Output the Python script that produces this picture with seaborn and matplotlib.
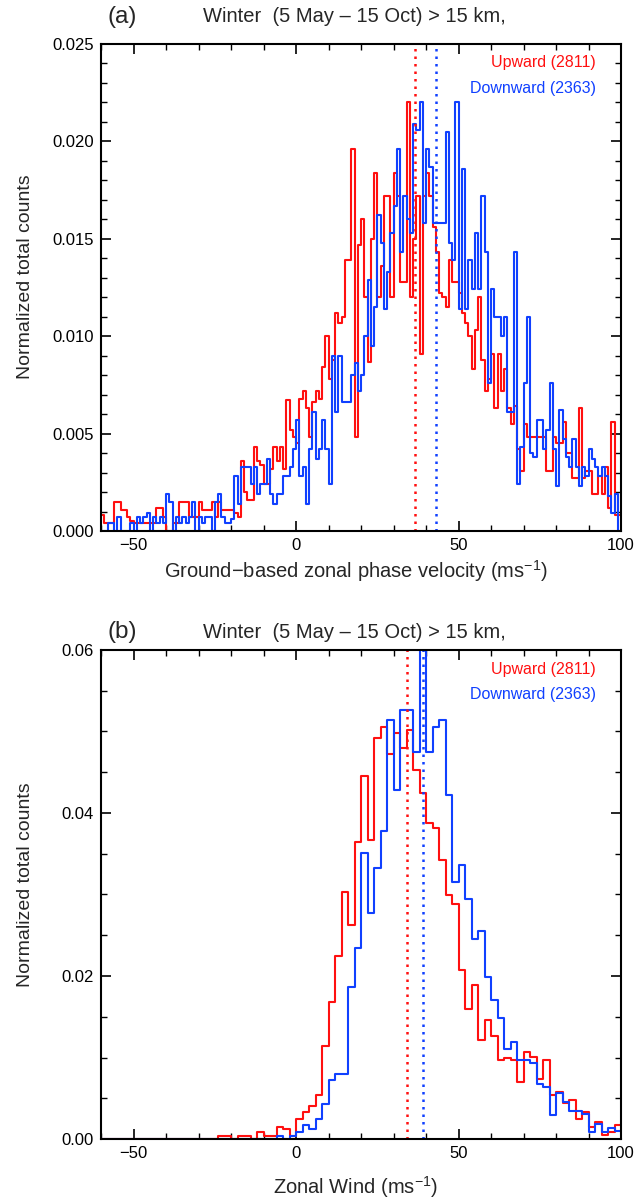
import numpy as np
import pandas as pd
import matplotlib
matplotlib.use("Agg")
import matplotlib.pyplot as plt
from matplotlib.ticker import MultipleLocator
import seaborn as sns

# ---------------- data ----------------
# Panel (a): ground-based zonal phase velocity, 1 m/s bins from -60 to 100
edges_a = np.arange(-60, 101, 1)
up_a = [
    0.0008, 0.0004, 0.0004, 0.0004, 0.0015, 0.0015, 0.0011, 0.0011, 0.0007, 0.0005,
    0.0004, 0.0004, 0.0004, 0.0004, 0.0004, 0.0004, 0.0004, 0.0012, 0.0012, 0.0007,
    0.0000, 0.0000, 0.0004, 0.0004, 0.0015, 0.0015, 0.0015, 0.0007, 0.0007, 0.0007,
    0.0015, 0.0011, 0.0011, 0.0011, 0.0015, 0.0007, 0.0015, 0.0011, 0.0011, 0.0011,
    0.0011, 0.0009, 0.0007, 0.0036, 0.0020, 0.0016, 0.0016, 0.0043, 0.0036, 0.0034,
    0.0024, 0.0024, 0.0032, 0.0043, 0.0036, 0.0043, 0.0032, 0.0067, 0.0052, 0.0048,
    0.0045, 0.0068, 0.0072, 0.0063, 0.0048, 0.0066, 0.0072, 0.0068, 0.0084, 0.0100,
    0.0078, 0.0088, 0.0112, 0.0107, 0.0110, 0.0139, 0.0139, 0.0196, 0.0048, 0.0147,
    0.0160, 0.0120, 0.0087, 0.0150, 0.0184, 0.0120, 0.0136, 0.0172, 0.0172, 0.0120,
    0.0184, 0.0172, 0.0128, 0.0128, 0.0220, 0.0120, 0.0150, 0.0172, 0.0091, 0.0172,
    0.0184, 0.0172, 0.0156, 0.0143, 0.0122, 0.0120, 0.0115, 0.0139, 0.0128, 0.0128,
    0.0122, 0.0112, 0.0107, 0.0100, 0.0083, 0.0103, 0.0120, 0.0088, 0.0072, 0.0078,
    0.0091, 0.0063, 0.0091, 0.0072, 0.0083, 0.0063, 0.0055, 0.0064, 0.0042, 0.0031,
    0.0055, 0.0048, 0.0048, 0.0048, 0.0048, 0.0048, 0.0048, 0.0031, 0.0031, 0.0048,
    0.0045, 0.0045, 0.0056, 0.0040, 0.0040, 0.0027, 0.0027, 0.0063, 0.0027, 0.0031,
    0.0031, 0.0019, 0.0019, 0.0028, 0.0019, 0.0033, 0.0012, 0.0056, 0.0008, 0.0008,
]
down_a = [
    0.0000, 0.0000, 0.0004, 0.0004, 0.0000, 0.0007, 0.0000, 0.0000, 0.0000, 0.0004,
    0.0000, 0.0007, 0.0004, 0.0007, 0.0009, 0.0000, 0.0007, 0.0004, 0.0007, 0.0004,
    0.0019, 0.0015, 0.0000, 0.0007, 0.0004, 0.0007, 0.0004, 0.0007, 0.0015, 0.0000,
    0.0007, 0.0004, 0.0007, 0.0007, 0.0000, 0.0015, 0.0019, 0.0007, 0.0004, 0.0004,
    0.0006, 0.0028, 0.0014, 0.0033, 0.0033, 0.0033, 0.0024, 0.0033, 0.0019, 0.0024,
    0.0024, 0.0037, 0.0019, 0.0014, 0.0019, 0.0019, 0.0028, 0.0028, 0.0033, 0.0042,
    0.0057, 0.0028, 0.0033, 0.0014, 0.0042, 0.0061, 0.0037, 0.0042, 0.0057, 0.0042,
    0.0024, 0.0090, 0.0061, 0.0090, 0.0066, 0.0066, 0.0066, 0.0080, 0.0086, 0.0072,
    0.0080, 0.0100, 0.0129, 0.0095, 0.0115, 0.0162, 0.0148, 0.0114, 0.0133, 0.0153,
    0.0167, 0.0196, 0.0143, 0.0172, 0.0160, 0.0153, 0.0209, 0.0206, 0.0220, 0.0158,
    0.0196, 0.0187, 0.0158, 0.0158, 0.0158, 0.0158, 0.0205, 0.0148, 0.0139, 0.0220,
    0.0114, 0.0186, 0.0114, 0.0139, 0.0124, 0.0153, 0.0124, 0.0172, 0.0143, 0.0076,
    0.0124, 0.0110, 0.0110, 0.0100, 0.0110, 0.0061, 0.0061, 0.0143, 0.0024, 0.0043,
    0.0076, 0.0110, 0.0040, 0.0038, 0.0057, 0.0057, 0.0042, 0.0052, 0.0076, 0.0042,
    0.0023, 0.0062, 0.0047, 0.0038, 0.0033, 0.0047, 0.0033, 0.0023, 0.0033, 0.0028,
    0.0042, 0.0037, 0.0033, 0.0028, 0.0033, 0.0028, 0.0018, 0.0009, 0.0019, 0.0000,
]
mean_up_a = 36.7
mean_down_a = 43.1

# Panel (b): zonal wind, 2 m/s bins from -60 to 100
edges_b = np.arange(-60, 101, 2)
up_b = [
    0, 0, 0, 0, 0, 0, 0, 0, 0, 0,
    0, 0, 0, 0, 0, 0, 0, 0, 0.0004, 0.0004,
    0, 0.0004, 0.0004, 0, 0.0008, 0.0004, 0.0004, 0.0015, 0.0012, 0.0004,
    0.0025, 0.0033, 0.0040, 0.0054, 0.0114, 0.0168, 0.0225, 0.0303, 0.0263, 0.0364,
    0.0445, 0.0367, 0.0492, 0.0506, 0.0473, 0.0498, 0.0480, 0.0502, 0.0453, 0.0424,
    0.0388, 0.0381, 0.0342, 0.0299, 0.0288, 0.0207, 0.0160, 0.0189, 0.0121, 0.0146,
    0.0126, 0.0097, 0.0100, 0.0097, 0.0070, 0.0107, 0.0101, 0.0074, 0.0097, 0.0054,
    0.0058, 0.0044, 0.0048, 0.0025, 0.0033, 0.0015, 0.0021, 0.0005, 0.0009, 0.0017,
]
down_b = [
    0, 0, 0, 0, 0, 0, 0, 0, 0, 0,
    0, 0, 0, 0, 0, 0, 0, 0, 0, 0,
    0, 0, 0, 0, 0, 0, 0, 0.0004, 0, 0.0004,
    0.0009, 0.0017, 0.0012, 0.0025, 0.0043, 0.0072, 0.0080, 0.0080, 0.0187, 0.0234,
    0.0351, 0.0277, 0.0332, 0.0378, 0.0514, 0.0428, 0.0526, 0.0526, 0.0475, 0.0650,
    0.0475, 0.0506, 0.0514, 0.0422, 0.0315, 0.0336, 0.0294, 0.0246, 0.0255, 0.0199,
    0.0170, 0.0149, 0.0111, 0.0119, 0.0097, 0.0097, 0.0093, 0.0068, 0.0064, 0.0029,
    0.0056, 0.0045, 0.0034, 0.0034, 0.0031, 0.0009, 0.0019, 0.0009, 0.0013, 0.0010,
]
mean_up_b = 34.0
mean_down_b = 39.2

title_text = "Winter  (5 May \u2013 15 Oct) > 15 km,"
up_label = "Upward (2811)"
down_label = "Downward (2363)"

RED = "#ff1010"
BLUE = "#1040ff"

# ---------------- plotting ----------------
sns.set_theme(style="white")
plt.rcParams["font.family"] = ["Liberation Sans", "DejaVu Sans"]
plt.rcParams["mathtext.fontset"] = "custom"
plt.rcParams["mathtext.rm"] = "Liberation Sans"

W, H = 638, 1199
fig = plt.figure(figsize=(W / 100, H / 100), dpi=100)
ax1 = fig.add_axes([101 / W, 1 - 531 / H, 520 / W, 487 / H])
ax2 = fig.add_axes([101 / W, 1 - 1139 / H, 520 / W, 489 / H])


def draw(ax, edges, up, down, m_up, m_down, ymax, ymaj, ymin, yfmt, xlabel,
         letter, top_px, xlab_y, ylab_y):
    centers = (edges[:-1] + edges[1:]) / 2
    width = float(edges[1] - edges[0])
    lo, hi = float(edges[0]), float(edges[-1])
    for vals, col in ((up, RED), (down, BLUE)):
        df = pd.DataFrame({"x": centers, "w": np.asarray(vals, dtype=float)})
        sns.histplot(data=df, x="x", weights="w", binwidth=width, binrange=(lo, hi),
                     element="step", fill=False, color=col, linewidth=1.5,
                     ax=ax, legend=False)
    ax.axvline(m_up, color=RED, linestyle=(0, (1, 2.0)), linewidth=1.8)
    ax.axvline(m_down, color=BLUE, linestyle=(0, (1, 2.0)), linewidth=1.8)
    ax.set_xlim(-60, 100)
    ax.set_ylim(0, ymax)
    ax.xaxis.set_major_locator(MultipleLocator(50))
    ax.xaxis.set_minor_locator(MultipleLocator(10))
    ax.yaxis.set_major_locator(MultipleLocator(ymaj))
    ax.yaxis.set_minor_locator(MultipleLocator(ymin))
    ax.yaxis.set_major_formatter(matplotlib.ticker.FormatStrFormatter(yfmt))
    ax.tick_params(which="both", direction="in", top=True, right=True,
                   bottom=True, left=True, labelsize=12, colors="black")
    ax.tick_params(which="major", length=7, width=1.2, pad=5)
    ax.tick_params(which="minor", length=4, width=1.0)
    for s in ax.spines.values():
        s.set_linewidth(1.5)
        s.set_color("black")
    ax.set_xlabel(xlabel, fontsize=14.5)
    ax.xaxis.label.set_va("center")
    ax.xaxis.set_label_coords(0.49, xlab_y)
    ax.set_ylabel("Normalized total counts", fontsize=14)
    ax.yaxis.label.set_va("center")
    ax.yaxis.set_label_coords(-0.146, ylab_y)
    ax.text(0.952, 0.961, up_label, color=RED, fontsize=11.5,
            ha="right", va="center", transform=ax.transAxes)
    ax.text(0.952, 0.908, down_label, color=BLUE, fontsize=11.5,
            ha="right", va="center", transform=ax.transAxes)
    fig.text(122 / W, 1 - top_px / H, letter, fontsize=17.5, ha="center", va="center")
    fig.text(354 / W, 1 - top_px / H, title_text, fontsize=14.5, ha="center", va="center")


draw(ax1, edges_a, up_a, down_a, mean_up_a, mean_down_a, 0.025, 0.005, 0.001,
     "%.3f", "Ground\u2212based zonal phase velocity (ms$^{\u22121}$)", "(a)",
     17, -0.082, 0.522)
draw(ax2, edges_b, up_b, down_b, mean_up_b, mean_down_b, 0.06, 0.02, 0.005,
     "%.2f", "Zonal Wind (ms$^{\u22121}$)", "(b)",
     632, -0.098, 0.52)

fig.savefig("out.png", dpi=100)
